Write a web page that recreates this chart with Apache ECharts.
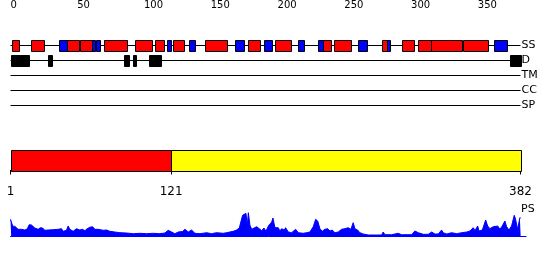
<!DOCTYPE html>
<html><head><meta charset="utf-8">
<script src="https://cdn.jsdelivr.net/npm/echarts@6/dist/echarts.min.js"></script>
<style>html,body{margin:0;padding:0;background:#fff}#c{width:550px;height:260px}</style>
</head><body><div id="c"></div>
<script>
// ---------- data ----------
const seqLength = 382;
const trackNames = ['SS', 'D', 'TM', 'CC', 'SP'];

// secondary structure: H = helix (red), E = strand (blue)
const ssStarts = [1, 15, 36, 42, 52, 61, 64, 70, 93, 108, 117, 122, 134, 146, 168, 178, 190, 198, 215, 230, 234, 242, 260, 278, 282, 293, 305, 315, 339, 362];
const ssEnds   = [6, 25, 42, 51, 61, 63, 67, 87, 106, 115, 120, 130, 138, 162, 175, 187, 196, 210, 220, 234, 240, 255, 267, 282, 284, 302, 315, 338, 358, 372];
const ssTypes  = ['H','H','E','H','H','E','E','H','H','H','E','H','E','H','E','H','E','H','E','E','H','H','E','H','E','H','H','H','H','E'];

// disorder regions
const disorderStarts = [0, 28, 85, 92, 104, 374];
const disorderEnds   = [14, 31, 89, 94, 113, 382];

// domain bar
const domainStarts = [1, 121];
const domainEnds   = [121, 382];
const domainKinds  = ['A', 'B'];
const positionTicks = [1, 121, 382];

// PS profile [residue, score]
const psProfile = [
[0,16.7],[0.5,16],[1.7,9.7],[3.2,9.7],[4.5,9.3],[5.7,6.7],[8.2,6.7],[10.7,6],[12.5,7],[14,11.3],
[15.7,11],[17,10],[18.2,8],[20.7,6.7],[22.4,8.3],[24,8],[25.7,5.7],[28.2,6],[32,6.3],[35.7,6.7],
[38.2,7.3],[39.4,4.7],[41.9,5.7],[43.2,10],[44.4,6.7],[46.9,4.7],[49.4,7.3],[51.9,6],[53.9,6.7],[55.7,5.3],
[57.4,7.3],[59.4,8.7],[61.4,9.3],[63.2,6.7],[64.4,5.7],[65.6,6.7],[66.9,5.3],[69.4,5.7],[71.9,6],[74.4,4.7],
[78.1,4],[81.9,3.3],[86.9,3],[91.9,2.3],[96.9,2.7],[101.9,2.3],[106.9,2.7],[111.9,2.3],[115.6,3],[118.1,5.7],
[119.4,4],[123.1,2.3],[125.6,4],[126.8,3],[128.8,4.5],[130.6,6.7],[133.1,4],[135.6,6],[138.1,2.7],[141.9,2.3],
[146.9,3.3],[150.5,2.3],[154.3,3.3],[159.3,2.7],[161.8,3.3],[164.3,4],[166.8,4.7],[169.3,6],[171.3,8],[172.3,8.7],
[173.8,20.7],[174.8,22.7],[176.3,22.7],[177.3,10.7],[178.1,23.3],[179.3,10.7],[180.6,6.7],[181.8,4.7],[184.3,9.3],[186.3,7.3],
[188.1,5.3],[189.8,8],[191.3,4.7],[193.1,10],[194.3,10],[195.6,14],[196.5,18],[198,8.3],[200.5,8.3],[201.7,5],
[203,7.3],[205,6],[206,8.3],[208,4],[210.5,3.3],[213.5,6.7],[215.5,3.3],[219.2,2.7],[221.7,3.3],[224.2,4],
[226.7,9.3],[228.5,16.7],[230,15],[231.7,7.3],[233.4,4.7],[235.4,6.7],[237.5,7.3],[239.2,5],[240.9,6],[242.9,3.3],
[245.4,4],[247.9,6.7],[250.4,7.3],[252.9,8.3],[254.9,6.7],[256.6,13.3],[257.9,7.3],[259.9,6],[261.6,3.3],[264.1,2],
[267.9,1],[272.9,1],[277.9,1],[279.1,4],[280.4,1.3],[285.4,1.3],[290.3,2.7],[292.9,1.3],[300.4,1.3],[302.8,5],
[305.3,3.3],[309.1,1.7],[312.8,1.7],[315.4,4],[317.8,2],[320.3,2],[322.8,6],[324,3.3],[326.6,2],[330.3,3.3],
[334.1,2.3],[337.8,3.3],[341.6,4],[344,5],[346.5,8.3],[347.8,5.3],[349.8,10],[350.8,5],[353.3,6],[355.8,16],
[357.3,10],[359,7.3],[361.5,9.3],[362.8,7.3],[364.8,10],[366.5,6.7],[368.2,10],[370.2,15],[371.5,9.3],[373.2,6],
[375.2,10],[377.2,20.7],[378.2,16.7],[379.7,6.7],[381.4,18.3],[382,18]
];

// ---------- build ----------
const FONT = 'DejaVu Sans';
const ssData = ssStarts.map((s, i) => [s, ssEnds[i], 'SS', ssTypes[i]]);
const dData = disorderStarts.map((s, i) => [s, disorderEnds[i], 'D', 'D']);
const domData = domainStarts.map((s, i) => [s, domainEnds[i], domainKinds[i]]);
const fills = { H: '#ff0000', E: '#0000ff', D: '#000000', A: '#ff0000', B: '#ffff00' };

function trackRect(params, api) {
  const s = api.coord([api.value(0), api.value(2)]);
  const e = api.coord([api.value(1), api.value(2)]);
  const h = api.size([0, 1])[1] * 0.7;
  const x0 = Math.round(s[0]) + 0.5, x1 = Math.round(e[0]) + 0.5;
  const y0 = Math.round(s[1] - h / 2) + 0.5;
  return { type: 'rect', shape: { x: x0, y: y0, width: x1 - x0, height: Math.round(h) },
    style: { fill: fills[api.value(3)], stroke: '#000', lineWidth: 1 } };
}
function domainRect(params, api) {
  const s = api.coord([api.value(0), 0]);
  const e = api.coord([api.value(1), 0]);
  const cs = params.coordSys;
  const x0 = Math.round(s[0]) + 0.5, x1 = Math.round(e[0]) + 0.5;
  return { type: 'rect', shape: { x: x0, y: Math.round(cs.y) + 0.5, width: x1 - x0, height: Math.round(cs.height) },
    style: { fill: fills[domData[params.dataIndex][2]], stroke: '#000', lineWidth: 1 } };
}

const chart = echarts.init(document.getElementById('c'), null, { renderer: 'canvas' });
chart.setOption({
  animation: false,
  backgroundColor: '#fff',
  textStyle: { fontFamily: FONT },
  grid: [
    { left: 10.5, width: 510, top: 45, height: 60 },
    { left: 10.5, width: 510, top: 150, height: 20.5 },
    { left: 10.5, width: 515.5, top: 212, height: 24 }
  ],
  xAxis: [
    { gridIndex: 0, type: 'value', min: 0, max: seqLength, interval: 10, position: 'top', offset: 30,
      axisLine: { lineStyle: { color: '#000', width: 1 } },
      axisTick: { length: 3, lineStyle: { color: '#000' } },
      axisLabel: { color: '#000', fontSize: 10, fontFamily: FONT, align: 'left', margin: 5,
        formatter: v => (v % 50 === 0 ? String(v) : '') },
      splitLine: { show: false } },
    { gridIndex: 1, type: 'value', min: 1, max: seqLength, position: 'bottom', offset: 10,
      axisLine: { lineStyle: { color: '#000', width: 1 } },
      axisTick: { length: 4, customValues: positionTicks, lineStyle: { color: '#000' } },
      axisLabel: { color: '#000', fontSize: 12, fontFamily: FONT, margin: 5, customValues: positionTicks },
      splitLine: { show: false } },
    { gridIndex: 2, type: 'value', min: 0, max: 386,
      axisLine: { lineStyle: { color: '#0000ff', width: 1 } },
      axisTick: { show: false }, axisLabel: { show: false }, splitLine: { show: false } }
  ],
  yAxis: [
    { gridIndex: 0, type: 'category', data: trackNames, inverse: true, boundaryGap: false, position: 'right',
      axisLine: { show: false }, axisTick: { show: false },
      axisLabel: { color: '#000', fontSize: 11, fontFamily: FONT, margin: 1, interval: 0 },
      splitLine: { show: true, interval: 0, lineStyle: { color: '#000', width: 1 } } },
    { gridIndex: 1, type: 'value', min: 0, max: 1, show: false },
    { gridIndex: 2, type: 'value', min: 0, max: 24, show: false }
  ],
  series: [
    { type: 'custom', xAxisIndex: 0, yAxisIndex: 0, renderItem: trackRect, data: dData, encode: { x: [0, 1], y: 2 }, z: 3 },
    { type: 'custom', xAxisIndex: 0, yAxisIndex: 0, renderItem: trackRect, data: ssData, encode: { x: [0, 1], y: 2 }, z: 3 },
    { type: 'custom', xAxisIndex: 1, yAxisIndex: 1, renderItem: domainRect, data: domData, encode: { x: [0, 1] }, z: 3 },
    { type: 'line', xAxisIndex: 2, yAxisIndex: 2, data: psProfile, symbol: 'none',
      lineStyle: { color: '#0000ff', width: 1 }, areaStyle: { color: '#0000ff', opacity: 1 } }
  ],
  graphic: [
    { type: 'text', left: 521, top: 204, style: { text: 'PS', fill: '#000', font: '11px "DejaVu Sans"' } }
  ]
});
</script>
</body></html>
